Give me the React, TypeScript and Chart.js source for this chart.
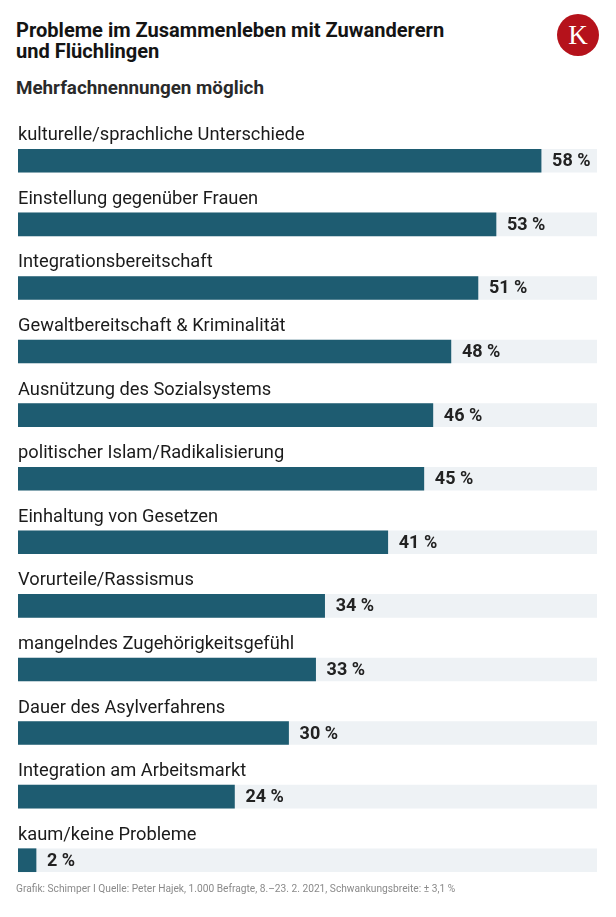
import React, { useEffect, useRef } from "react";
import { Chart, registerables } from "chart.js";

Chart.register(...registerables);

const categories = [
  "kulturelle/sprachliche Unterschiede",
  "Einstellung gegenüber Frauen",
  "Integrationsbereitschaft",
  "Gewaltbereitschaft & Kriminalität",
  "Ausnützung des Sozialsystems",
  "politischer Islam/Radikalisierung",
  "Einhaltung von Gesetzen",
  "Vorurteile/Rassismus",
  "mangelndes Zugehörigkeitsgefühl",
  "Dauer des Asylverfahrens",
  "Integration am Arbeitsmarkt",
  "kaum/keine Probleme",
];
const values = [58, 53, 51, 48, 46, 45, 41, 34, 33, 30, 24, 2];
const axisMax = 64.2;
const trackValues = categories.map(() => axisMax);

const title1 = "Probleme im Zusammenleben mit Zuwanderern";
const title2 = "und Flüchlingen";
const subtitle = "Mehrfachnennungen möglich";
const footer =
  "Grafik: Schimper I Quelle: Peter Hajek, 1.000 Befragte, 8.–23. 2. 2021, Schwankungsbreite: ± 3,1 %";

const BAR_COLOR = "#1e5c71";
const TRACK_COLOR = "#eef2f5";

const rowLabels = {
  id: "rowLabels",
  afterDatasetsDraw(chart: any) {
    const ctx = chart.ctx;
    const meta = chart.getDatasetMeta(0);
    meta.data.forEach((bar: any, i: number) => {
      const p = bar.getProps(["x", "y", "height"], true);
      ctx.save();
      ctx.fillStyle = "#1b1b1b";
      ctx.font = "18.3px Roboto";
      ctx.textBaseline = "alphabetic";
      ctx.textAlign = "left";
      ctx.fillText(categories[i], chart.chartArea.left, p.y - p.height / 2 - 9);
      ctx.font = "bold 18px Roboto";
      ctx.textBaseline = "middle";
      ctx.fillStyle = "#222222";
      ctx.fillText(values[i] + " %", p.x + 11, p.y + 1);
      ctx.restore();
    });
  },
};

function BarChart() {
  const ref = useRef<HTMLCanvasElement>(null);
  useEffect(() => {
    if (!ref.current) return;
    const chart = new Chart(ref.current, {
      type: "bar",
      data: {
        labels: categories,
        datasets: [
          {
            data: values,
            backgroundColor: BAR_COLOR,
            order: 1,
            grouped: false,
            barThickness: 23,
          } as any,
          {
            data: trackValues,
            backgroundColor: TRACK_COLOR,
            order: 2,
            grouped: false,
            barThickness: 23,
          } as any,
        ],
      },
      options: {
        indexAxis: "y",
        animation: false,
        responsive: false,
        devicePixelRatio: 1,
        layout: { padding: { top: 19, bottom: 8, left: 18, right: 19 } },
        scales: {
          x: { display: false, min: 0, max: axisMax },
          y: { display: false },
        },
        plugins: {
          legend: { display: false },
          tooltip: { enabled: false },
        },
      },
      plugins: [rowLabels],
    });
    return () => chart.destroy();
  }, []);
  return (
    <canvas
      ref={ref}
      width={616}
      height={790}
      style={{ position: "absolute", left: 0, top: 110, width: 616, height: 790 }}
    />
  );
}

export default function App() {
  return (
    <div
      style={{
        position: "absolute",
        left: 0,
        top: 0,
        width: 616,
        height: 917,
        background: "#ffffff",
        fontFamily: "Roboto, sans-serif",
        overflow: "hidden",
      }}
    >
      <div
        style={{
          position: "absolute",
          left: 16,
          top: 20,
          fontSize: 21,
          lineHeight: "21px",
          fontWeight: 700,
          color: "#141414",
          whiteSpace: "nowrap",
          transform: "scaleX(0.955)",
          transformOrigin: "left top",
        }}
      >
        <div>{title1}</div>
        <div>{title2}</div>
      </div>
      <div
        style={{
          position: "absolute",
          left: 16,
          top: 77,
          fontSize: 18.8,
          lineHeight: "22px",
          fontWeight: 700,
          color: "#2a2a2a",
          whiteSpace: "nowrap",
        }}
      >
        {subtitle}
      </div>
      <div
        style={{
          position: "absolute",
          left: 557,
          top: 14,
          width: 42,
          height: 42,
          borderRadius: "50%",
          background: "#b5121b",
          color: "#ffffff",
          fontFamily: "'Liberation Serif', serif",
          fontSize: 27,
          lineHeight: "42px",
          textAlign: "center",
        }}
      >
        K
      </div>
      <BarChart />
      <div
        style={{
          position: "absolute",
          left: 16,
          top: 882,
          fontSize: 10.2,
          lineHeight: "14px",
          color: "#8a8a8a",
          whiteSpace: "nowrap",
        }}
      >
        {footer}
      </div>
    </div>
  );
}
